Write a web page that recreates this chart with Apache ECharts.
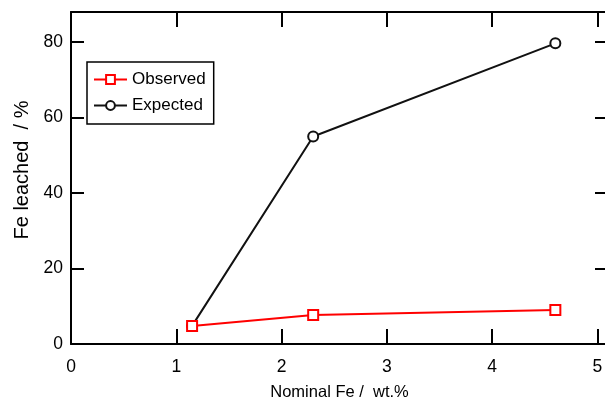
<!DOCTYPE html>
<html>
<head>
<meta charset="utf-8">
<script src="https://cdn.jsdelivr.net/npm/echarts@6/dist/echarts.min.js"></script>
<style>
  html, body { margin: 0; padding: 0; background: #fff; }
</style>
</head>
<body>
<div id="main" style="width: 605px; height: 400px"></div>
<script>
// nominal Fe content (wt.%)
const nominalFe = [1.15, 2.3, 4.6];
// Fe leached (%)
const observed = [4.8, 7.7, 9.0];
const expected = [4.8, 55.0, 79.7];
const xTicks = [0, 1, 2, 3, 4, 5];
const yTicks = [0, 20, 40, 60, 80];

const FONT = "'Liberation Sans', Arial, sans-serif";

let chart = echarts.init(document.getElementById("main"));

const xBase = {
  type: "value",
  min: 0,
  max: 5.1,
  interval: 1,
  splitLine: { show: false },
  axisLine: { onZero: false, lineStyle: { color: "#000", width: 2 } },
  axisTick: { inside: true, length: 15, lineStyle: { color: "#000", width: 2 } },
};
const yBase = {
  type: "value",
  min: 0,
  max: 88,
  interval: 20,
  splitLine: { show: false },
  axisLine: { onZero: false, lineStyle: { color: "#000", width: 2 } },
  axisTick: { inside: true, length: 13, lineStyle: { color: "#000", width: 2 } },
};

chart.setOption({
  animation: false,
  grid: { left: 71, top: 12, width: 537, height: 332, outerBoundsMode: "none", containLabel: false },
  legend: {
    orient: "vertical",
    left: 87,
    top: 62,
    padding: [9, 8, 10, 6],
    itemGap: 9,
    itemWidth: 33,
    itemHeight: 11,
    borderColor: "#000",
    borderWidth: 1.5,
    textStyle: { fontFamily: FONT, fontSize: 17, color: "#000" },
    data: ["Observed", "Expected"],
  },
  xAxis: [
    {
      ...xBase,
      position: "bottom",
      name: "Nominal Fe /  wt.%",
      nameLocation: "middle",
      nameGap: 40,
      nameTextStyle: { fontFamily: FONT, fontSize: 16.5, color: "#000" },
      axisLabel: {
        margin: 14,
        fontFamily: FONT,
        fontSize: 17.5,
        color: "#000",
        formatter: (v) => (xTicks.includes(v) ? String(v) : ""),
      },
    },
    { ...xBase, position: "top", axisLabel: { show: false } },
  ],
  yAxis: [
    {
      ...yBase,
      position: "left",
      name: "Fe leached  / %",
      nameLocation: "middle",
      nameGap: 38,
      nameTextStyle: { fontFamily: FONT, fontSize: 20, color: "#000", padding: [0, 0, 0, 16] },
      axisLabel: {
        margin: 8,
        fontFamily: FONT,
        fontSize: 17.5,
        color: "#000",
        formatter: (v) => (yTicks.includes(v) ? String(v) : ""),
      },
    },
    { ...yBase, position: "right", axisLabel: { show: false } },
  ],
  series: [
    {
      name: "Observed",
      type: "line",
      data: nominalFe.map((x, i) => [x, observed[i]]),
      symbol: "emptyRect",
      symbolSize: 10,
      lineStyle: { color: "#ff0000", width: 2 },
      itemStyle: { color: "#ff0000", borderColor: "#ff0000", borderWidth: 1 },
      z: 3,
    },
    {
      name: "Expected",
      type: "line",
      data: nominalFe.map((x, i) => [x, expected[i]]),
      symbol: "emptyCircle",
      symbolSize: 10,
      lineStyle: { color: "#111", width: 2 },
      itemStyle: { color: "#111", borderColor: "#111", borderWidth: 1 },
      z: 2,
    },
  ],
});
</script>
</body>
</html>
